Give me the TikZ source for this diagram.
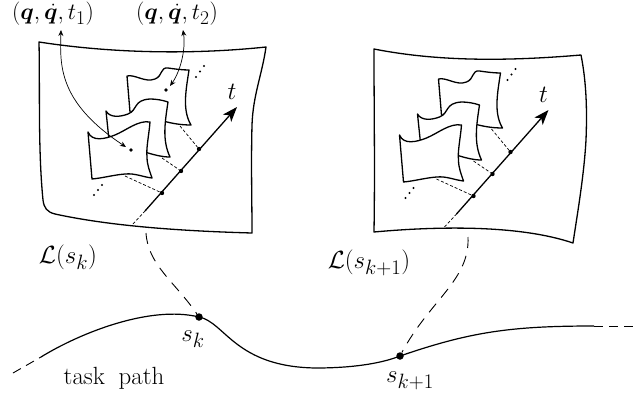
\documentclass[tikz,border=0pt]{standalone}
\usepackage{amsmath,amssymb}
\usepackage{bm}
\usepackage{graphicx}
\usetikzlibrary{arrows.meta}
\tikzset{
 sheet/.style={line width=1.3pt,fill=white,line join=round},
 flag/.style={line width=1.3pt,fill=white,line join=round},
 axis/.style={line width=1.3pt,-{Stealth[length=15pt,width=11pt,inset=4pt]}},
 axisfaint/.style={line width=.7pt,dash pattern=on 3pt off 2pt},
 drop/.style={line width=.7pt,dash pattern=on 3pt off 2pt},
 lead/.style={line width=.7pt,{Stealth[length=6pt,width=5pt]}-{Stealth[length=6pt,width=5pt]}},
 link/.style={line width=.9pt,dash pattern=on 11pt off 8pt},
 tpath/.style={line width=1.2pt},
 tdash/.style={line width=.9pt,dash pattern=on 9pt off 6pt},
 pt/.style={circle,fill=black,inner sep=0pt,minimum size=#1},
 pt/.default=4pt,
 lbl/.style={inner sep=0pt,font=\fontsize{24.88}{28}\selectfont},
}
\newcommand{\flagset}[1]{%
 % back flag
 \draw[flag] (127,76) .. controls (135,74) and (145,83) .. (155,79)
   .. controls (163,76) and (160,67) .. (168,68) .. controls (175,69) and (182,70) .. (189,70)
   .. controls (186,90) and (182,110) .. (191,125) .. controls (183,125) and (175,124) .. (167,122)
   -- (130,112) -- cycle;
 % middle flag
 \draw[flag] (106,111) .. controls (110,118) and (120,117) .. (128,114)
   .. controls (138,110) and (133,100) .. (150,99) .. controls (156,99) and (162,100) .. (168,102)
   .. controls (165,122) and (162,140) .. (170,157) .. controls (162,157) and (155,155) .. (148,153)
   -- (109,140) -- cycle;
 % front flag
 \draw[flag] (88,132) .. controls (92,142) and (105,139) .. (115,135)
   .. controls (127,130) and (138,120) .. (150,122) .. controls (149,135) and (146,148) .. (147,157)
   .. controls (147,165) and (150,172) .. (152,178) .. controls (143,177) and (135,173) .. (125,174)
   .. controls (113,175) and (103,178) .. (92,179) -- cycle;
 \node[pt=4.4pt] (#1a) at (162,193) {};
 \node[pt=4.4pt] (#1b) at (181,171) {};
 \node[pt=4.4pt] (#1c) at (199,149) {};
 \coordinate (#1s) at (133,224);
 \coordinate (#1m) at (145,211);
 \coordinate (#1t) at (237,107);
 \coordinate (#1fa) at (125,176);
 \coordinate (#1fb) at (162,158);
 \coordinate (#1fc) at (180,126);
 \draw[axisfaint] (#1s) -- (#1m);
 \draw[axis] (#1m) -- (#1t);
 \draw[drop] (#1fa) -- (#1a);
 \draw[drop] (#1fb) -- (#1b);
 \draw[drop] (#1fc) -- (#1c);
 \node[lbl] (#1tl) at (232,92) {$t$};
 \node[pt=2.4pt] (#1d1) at (94,195) {};
 \node[pt=2.4pt] (#1d2) at (98,190) {};
 \node[pt=2.4pt] (#1d3) at (102,185) {};
 \node[pt=2.4pt] (#1d4) at (196,77) {};
 \node[pt=2.4pt] (#1d5) at (200,71.5) {};
 \node[pt=2.4pt] (#1d6) at (204,66) {};
}
\begin{document}
\begin{tikzpicture}[x=1pt,y=-1pt]
\useasboundingbox (0,0) rectangle (641,399);
% left sheet
\draw[sheet] (39,42) .. controls (110,53) and (190,55) .. (266,47)
  .. controls (262,75) and (253,95) .. (252,125) .. controls (251,165) and (252,200) .. (252,233)
  .. controls (180,231) and (110,226) .. (55,214) .. controls (47,212) and (44,208) .. (43,200)
  .. controls (38,150) and (40,90) .. (39,42) -- cycle;
\flagset{L}
\node[pt=3.8pt] (p1) at (131,150) {};
\node[pt=3.8pt] (p2) at (166,90) {};
\node[lbl] (q1) at (53,14) {\scalebox{.94}{$(\bm{q},\dot{\bm{q}},t_1)$}};
\node[lbl] (q2) at (177,14) {\scalebox{.94}{$(\bm{q},\dot{\bm{q}},t_2)$}};
\coordinate (q1a) at (61,30);
\coordinate (q2a) at (183,30);
\coordinate (p1a) at (126,147);
\coordinate (p2a) at (170,86);
\draw[lead] (q1a) .. controls (60,65) and (58,102) .. (p1a);
\draw[lead] (q2a) .. controls (186,50) and (180,72) .. (p2a);
% right sheet
\draw[sheet] (374,49) .. controls (440,62) and (510,61) .. (581,55)
  .. controls (587,85) and (587,115) .. (586,140) .. controls (584,175) and (578,210) .. (573,243)
  .. controls (520,225) and (440,226) .. (374,232) .. controls (375,170) and (374,110) .. (374,49) -- cycle;
\begin{scope}[shift={(311.5,3)}]
\flagset{R}
\end{scope}
% task path
\node[pt=7.5pt] (sk) at (199,317) {};
\node[pt=7.5pt] (sk1) at (400,356) {};
\coordinate (ps) at (13,373);
\coordinate (pa) at (41,357);
\coordinate (pe) at (594,326);
\coordinate (pf) at (633,326);
\draw[tdash] (ps) -- (pa);
\draw[tpath] (pa) .. controls (80,333) and (150,305) .. (sk.center)
  .. controls (225,322) and (235,367) .. (316,368)
  .. controls (350,368) and (380,364) .. (sk1.center)
  .. controls (470,332) and (510,326) .. (pe);
\draw[tdash] (pe) -- (pf);
% links
\coordinate (la) at (146,233);
\coordinate (ra) at (468,237);
\draw[link] (la) .. controls (148,265) and (175,282) .. (sk);
\draw[link] (ra) .. controls (470,280) and (430,300) .. (sk1);
% labels
\node[lbl] (ls) at (68,257) {$\mathcal{L}(s_k)$};
\node[lbl] (ls1) at (369,263) {$\mathcal{L}(s_{k+1})$};
\node[lbl] (sl) at (193,339) {$s_k$};
\node[lbl] (sl1) at (410,381) {$s_{k+1}$};
\node[lbl] (tp) at (114,378) {task\hspace{.55em}path};
\end{tikzpicture}
\end{document}
